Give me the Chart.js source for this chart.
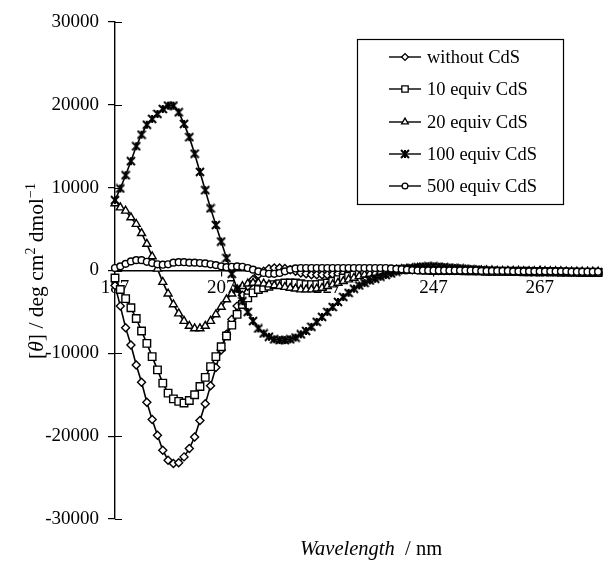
<!DOCTYPE html>
<html>
<head>
<meta charset="utf-8">
<script src="https://cdn.jsdelivr.net/npm/chart.js@4.4.1/dist/chart.umd.min.js"></script>
<style>
  html, body { margin: 0; padding: 0; background: #fff; }
  canvas { display: block; }
</style>
</head>
<body>
<canvas id="myChart" width="608" height="564"></canvas>
<script>
// wavelength (nm), one reading per nm
let wavelengths = [
  187, 188, 189, 190, 191, 192, 193, 194, 195, 196,
  197, 198, 199, 200, 201, 202, 203, 204, 205, 206,
  207, 208, 209, 210, 211, 212, 213, 214, 215, 216,
  217, 218, 219, 220, 221, 222, 223, 224, 225, 226,
  227, 228, 229, 230, 231, 232, 233, 234, 235, 236,
  237, 238, 239, 240, 241, 242, 243, 244, 245, 246,
  247, 248, 249, 250, 251, 252, 253, 254, 255, 256,
  257, 258, 259, 260, 261, 262, 263, 264, 265, 266,
  267, 268, 269, 270, 271, 272, 273, 274, 275, 276,
  277, 278
];

let withoutCdS = [
  -1800, -4300, -6900, -9000, -11400, -13500, -15900, -18000, -19900, -21700,
  -22900, -23300, -23200, -22500, -21500, -20100, -18100, -16100, -13900, -11700,
  -9600, -7700, -5900, -4300, -3000, -1900, -1100, -500, -100, 200,
  300, 300, 250, 100, -100, -300, -400, -500, -500, -500,
  -500, -450, -400, -350, -300, -250, -200, -150, -100, -50,
  0, 0, 50, 50, 100, 100, 100, 100, 50, 50,
  0, 0, 0, 0, 0, 0, 0, 0, -50, -50,
  -50, -50, -50, -100, -100, -100, -100, -100, -100, -100,
  -100, -100, -150, -150, -150, -150, -200, -200, -200, -200,
  -200, -200
];

let equiv10 = [
  -900, -2300, -3400, -4500, -5800, -7300, -8800, -10400, -12000, -13600,
  -14800, -15500, -15800, -16000, -15700, -15000, -14000, -12900, -11600, -10400,
  -9200, -7900, -6600, -5300, -4100, -3300, -2700, -2300, -2100, -1900,
  -1700, -1600, -1500, -1500, -1500, -1600, -1700, -1700, -1700, -1600,
  -1500, -1300, -1100, -900, -700, -550, -400, -300, -200, -100,
  0, 50, 100, 100, 150, 150, 100, 100, 50, 50,
  0, 0, 0, 0, 0, 0, -50, -50, -50, -50,
  -100, -100, -100, -100, -100, -100, -100, -150, -150, -150,
  -150, -150, -150, -150, -200, -200, -200, -200, -250, -250,
  -250, -250
];

let equiv20 = [
  8100, 7600, 7200, 6400, 5600, 4500, 3200, 1700, 200, -1400,
  -2800, -4100, -5200, -6100, -6700, -7000, -7000, -6700, -6100, -5300,
  -4400, -3500, -2800, -2300, -1900, -1600, -1500, -1500, -1600, -1700,
  -1800, -1900, -2000, -2100, -2200, -2300, -2300, -2300, -2200, -2100,
  -1900, -1700, -1500, -1300, -1100, -900, -700, -500, -400, -300,
  -200, -100, 0, 100, 150, 200, 250, 300, 300, 300,
  250, 200, 150, 100, 100, 50, 50, 0, 0, 0,
  0, 0, -50, -50, -50, -50, -50, -100, -100, -100,
  -100, -100, -100, -100, -100, -150, -150, -150, -150, -150,
  -150, -150
];

let equiv100 = [
  8500, 9900, 11500, 13200, 15000, 16400, 17600, 18300, 18900, 19500,
  19900, 19900, 19100, 17700, 16100, 14100, 11900, 9700, 7500, 5500,
  3500, 1500, -400, -2200, -3700, -5000, -6100, -7000, -7600, -8000,
  -8300, -8400, -8400, -8300, -8100, -7700, -7300, -6800, -6200, -5600,
  -5000, -4400, -3800, -3200, -2700, -2200, -1800, -1500, -1200, -1000,
  -750, -550, -350, -150, 50, 200, 300, 400, 450, 500,
  500, 450, 400, 350, 300, 250, 200, 150, 100, 50,
  0, 0, -50, -50, -100, -100, -100, -100, -100, -150,
  -150, -150, -150, -150, -200, -200, -200, -200, -200, -200,
  -200, -200
];

let equiv500 = [
  300, 500, 800, 1100, 1250, 1250, 1050, 900, 750, 700,
  750, 950, 1000, 1000, 950, 950, 900, 850, 750, 650,
  500, 400, 450, 500, 450, 300, 100, -100, -300, -400,
  -400, -300, -100, 100, 250, 300, 300, 300, 300, 300,
  300, 300, 300, 300, 300, 300, 300, 300, 300, 300,
  300, 300, 250, 200, 150, 100, 50, 0, 0, 0,
  0, 0, 0, 0, 0, 0, 0, 0, 0, -50,
  -50, -50, -50, -50, -50, -100, -100, -100, -100, -100,
  -100, -100, -100, -100, -100, -100, -150, -150, -150, -150,
  -150, -150
];

let seriesNames = ['without CdS', '10 equiv CdS', '20 equiv CdS', '100 equiv CdS', '500 equiv CdS'];
let xTickValues = [187, 207, 227, 247, 267];
let yTickValues = [-30000, -20000, -10000, 0, 10000, 20000, 30000];

const serif = 'Liberation Serif, "Times New Roman", serif';

function makeStar(size) {
    let c = document.createElement('canvas');
    c.width = size;
    c.height = size;
    let g = c.getContext('2d');
    let m = size / 2, r = size / 2 - 1;
    g.strokeStyle = '#000';
    g.lineWidth = 2;
    g.beginPath();
    g.moveTo(m - r, m - r); g.lineTo(m + r, m + r);
    g.moveTo(m + r, m - r); g.lineTo(m - r, m + r);
    g.moveTo(m, m - r); g.lineTo(m, m + r);
    g.stroke();
    return c;
}

let markers = [
    {style: 'rectRot', radius: 4},
    {style: 'rect', radius: 5.3},
    {style: 'triangle', radius: 4.6},
    {style: makeStar(10), radius: 4},
    {style: 'circle', radius: 3.4}
];

let allSeries = [withoutCdS, equiv10, equiv20, equiv100, equiv500];

let datasets = allSeries.map((values, i) => ({
    label: seriesNames[i],
    data: values.map((v, j) => ({x: wavelengths[j], y: v})),
    borderColor: '#000',
    borderWidth: 1.6,
    pointStyle: markers[i].style,
    pointRadius: markers[i].radius,
    pointBackgroundColor: '#fff',
    pointBorderColor: '#000',
    pointBorderWidth: 1.4,
    tension: 0,
    clip: false,
    order: 5 - i
}));

// tick marks that cross the axis lines (Excel style)
const axisMarks = {
    id: 'axisMarks',
    beforeDatasetsDraw(chart) {
        let ctx = chart.ctx;
        let x = chart.scales.x, y = chart.scales.y;
        let left = chart.chartArea.left;
        let yZero = y.getPixelForValue(0);
        ctx.save();
        ctx.strokeStyle = '#000';
        ctx.lineWidth = 1.2;
        ctx.beginPath();
        y.ticks.forEach(t => {
            let py = Math.round(y.getPixelForValue(t.value)) + 0.5;
            ctx.moveTo(left, py);
            ctx.lineTo(left + 7, py);
        });
        x.ticks.forEach(t => {
            let px = Math.round(x.getPixelForValue(t.value)) + 0.5;
            ctx.moveTo(px, yZero);
            ctx.lineTo(px, yZero - 5);
        });
        ctx.stroke();
        ctx.restore();
    }
};

function drawPieces(ctx, pieces, startX, baseY) {
    let px = startX;
    pieces.forEach(p => {
        ctx.font = p.font;
        ctx.fillText(p.text, px, baseY + (p.dy || 0));
        px += ctx.measureText(p.text).width;
    });
}

function piecesWidth(ctx, pieces) {
    let w = 0;
    pieces.forEach(p => {
        ctx.font = p.font;
        w += ctx.measureText(p.text).width;
    });
    return w;
}

const titlesAndLegend = {
    id: 'titlesAndLegend',
    afterDraw(chart) {
        let ctx = chart.ctx;
        ctx.save();
        ctx.fillStyle = '#000';
        ctx.textBaseline = 'alphabetic';
        ctx.textAlign = 'left';

        // y axis title
        let reg = '21.5px ' + serif, ital = 'italic 21.5px ' + serif, sup = '14px ' + serif;
        let yPieces = [
            {text: '[', font: reg},
            {text: 'θ', font: ital},
            {text: '] / deg cm', font: reg},
            {text: '2', font: sup, dy: -8},
            {text: ' dmol', font: reg},
            {text: '−1', font: sup, dy: -8}
        ];
        ctx.save();
        ctx.translate(43, 271);
        ctx.rotate(-Math.PI / 2);
        drawPieces(ctx, yPieces, -piecesWidth(ctx, yPieces) / 2, 0);
        ctx.restore();

        // x axis title
        let xPieces = [
            {text: 'Wavelength', font: 'italic 20.5px ' + serif},
            {text: '  / nm', font: '20.5px ' + serif}
        ];
        drawPieces(ctx, xPieces, 371 - piecesWidth(ctx, xPieces) / 2, 555);

        // legend box
        let bx = 357, by = 39, bw = 206, bh = 165;
        ctx.fillStyle = '#fff';
        ctx.fillRect(bx, by, bw, bh);
        ctx.strokeStyle = '#000';
        ctx.lineWidth = 1.2;
        ctx.strokeRect(bx + 0.5, by + 0.5, bw, bh);
        let rowY = [57, 89, 122, 154, 186];
        ctx.font = '18.5px ' + serif;
        ctx.textBaseline = 'middle';
        seriesNames.forEach((name, i) => {
            let yy = rowY[i];
            ctx.strokeStyle = '#000';
            ctx.lineWidth = 1.4;
            ctx.beginPath();
            ctx.moveTo(389, yy);
            ctx.lineTo(421, yy);
            ctx.stroke();
            if (Chart.helpers && Chart.helpers.drawPoint) {
                ctx.fillStyle = '#fff';
                ctx.lineWidth = 1.3;
                Chart.helpers.drawPoint(ctx, {
                    pointStyle: markers[i].style,
                    radius: markers[i].radius * 0.85,
                    rotation: 0,
                    borderWidth: 1.3
                }, 405, yy);
            }
            ctx.fillStyle = '#000';
            ctx.fillText(name, 427, yy + 1);
        });
        ctx.restore();
    }
};

let ctx = document.getElementById('myChart').getContext('2d');
let myChart = new Chart(ctx, {
    type: 'line',
    data: { datasets: datasets },
    options: {
        responsive: false,
        animation: false,
        devicePixelRatio: 1,
        layout: { padding: { left: 0, right: 3, top: 22, bottom: 45 } },
        plugins: {
            legend: { display: false },
            tooltip: { enabled: false }
        },
        scales: {
            x: {
                type: 'linear',
                min: 187,
                max: 278.6,
                position: { y: 0 },
                afterBuildTicks: s => { s.ticks = xTickValues.map(v => ({value: v})); },
                grid: { drawOnChartArea: false, color: '#000', tickLength: 5, lineWidth: 1.2 },
                border: { color: '#000', width: 1.4 },
                ticks: {
                    autoSkip: false,
                    maxRotation: 0,
                    padding: 1,
                    color: '#000',
                    font: { family: serif, size: 19 },
                    callback: v => String(v)
                }
            },
            y: {
                min: -30000,
                max: 30000,
                afterBuildTicks: s => { s.ticks = yTickValues.map(v => ({value: v})); },
                afterFit: s => { s.width = 115; },
                grid: { drawOnChartArea: false, color: '#000', tickLength: 7, lineWidth: 1.2 },
                border: { color: '#000', width: 1.4 },
                ticks: {
                    padding: 9,
                    color: '#000',
                    font: { family: serif, size: 19 },
                    callback: v => String(v)
                }
            }
        }
    },
    plugins: [axisMarks, titlesAndLegend]
});
</script>
</body>
</html>
